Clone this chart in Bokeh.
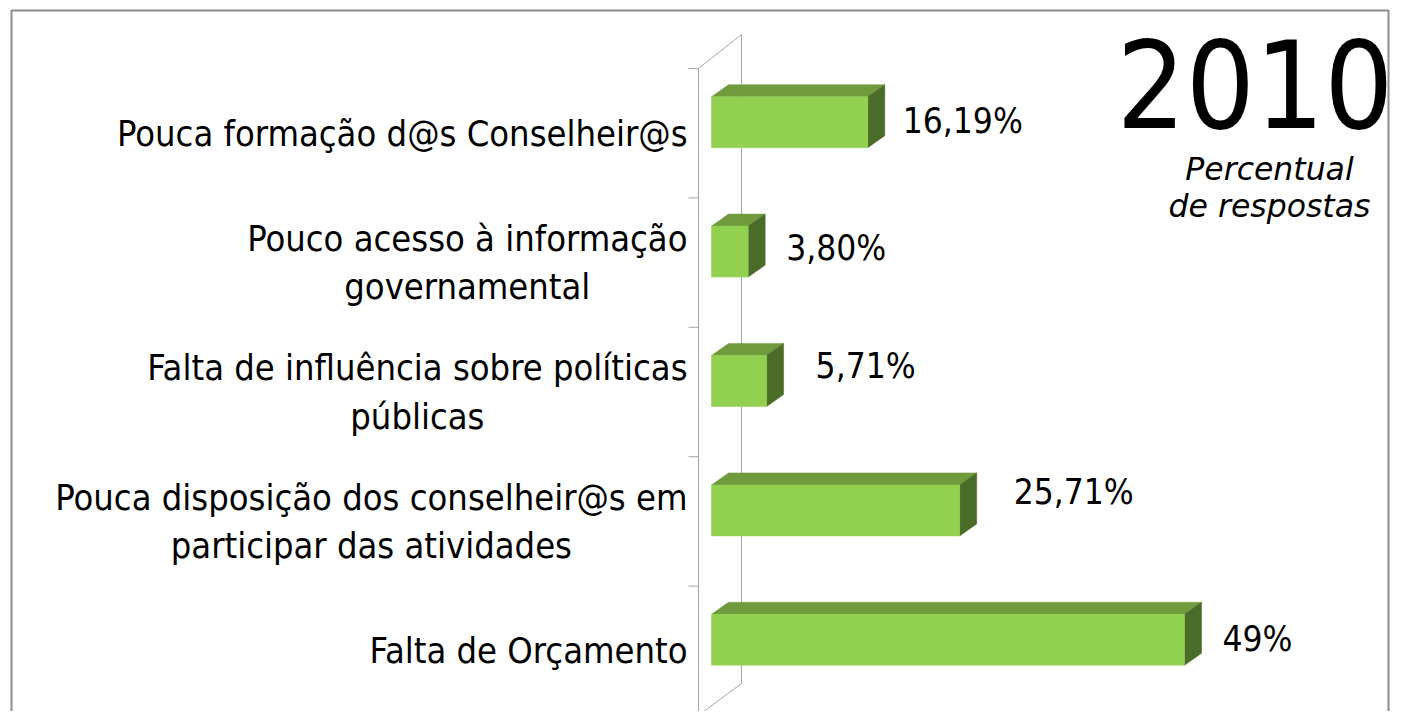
from bokeh.plotting import figure
from bokeh.models import Range1d
from bokeh.core.properties import value
from bokeh.embed import file_html
from bokeh.resources import INLINE

# ---- data ----
categories = [
    "Pouca formação d@s Conselheir@s",
    "Pouco acesso à informação\ngovernamental",
    "Falta de influência sobre políticas\npúblicas",
    "Pouca disposição dos conselheir@s em\nparticipar das atividades",
    "Falta de Orçamento",
]
values = [16.19, 3.80, 5.71, 25.71, 49.0]
value_labels = ["16,19%", "3,80%", "5,71%", "25,71%", "49%"]
title_text = "2010"
subtitle_lines = ["Percentual", "de respostas"]

# ---- layout constants (pixels) ----
W, H = 1392, 711
X0 = 711.0        # canvas x of 0 %
PPX = 9.653       # pixels per percent
YC0 = 132.7       # canvas y of first category band centre
BAND = 129.4      # pixels per category
BAR_H = 51.0
BAR_SHIFT = -11.0
DX, DY = 17.0, 12.0
LABEL_GAP = [18, 21, 32, 37, 21]
LABEL_NUDGE = [-1, -4, -15, -18, -1]

FONT = "DejaVu Sans Condensed, DejaVu Sans"

def fx(px):
    return (px - X0) / PPX

def fy(py):
    return (py - YC0) / BAND

p = figure(width=W, height=H, output_backend="svg", toolbar_location=None,
           x_range=Range1d(fx(0), fx(W)), y_range=Range1d(fy(H), fy(0)),
           min_border=0, background_fill_color="white", border_fill_color="white")
p.axis.visible = False
p.grid.visible = False
p.outline_line_color = None

# ---- outer border ----
p.line([fx(11), fx(11), fx(1388), fx(1388)], [fy(H + 5), fy(10), fy(10), fy(H + 5)],
       line_color="#8c8c8c", line_width=2)

# ---- 3D walls ----
wall = "#a6a6a6"
n = len(categories)
fl, bl = 698, 741
top_f, bot_f = YC0 - BAND / 2, YC0 + BAND * (n - 0.5)
wd = 34
p.line([fx(fl), fx(fl)], [fy(top_f), fy(bot_f)], line_color=wall, line_width=1)
p.line([fx(bl), fx(bl)], [fy(top_f - wd), fy(bot_f - wd + 2)], line_color=wall, line_width=1)
p.line([fx(fl), fx(bl)], [fy(top_f), fy(top_f - wd)], line_color=wall, line_width=1)
p.line([fx(fl), fx(bl)], [fy(bot_f), fy(bot_f - wd + 2)], line_color=wall, line_width=1)
tick_y = [fy(top_f + BAND * k) for k in range(n + 1)]
p.segment(x0=[fx(688)] * (n + 1), x1=[fx(fl)] * (n + 1), y0=tick_y, y1=tick_y,
          line_color=wall, line_width=1)

# ---- bars ----
ddx = DX / PPX
ddy = DY / BAND
fronts = dict(left=[], right=[], top=[], bottom=[])
tops_x, tops_y, side_x, side_y = [], [], [], []
for k, v in enumerate(values):
    c = YC0 + k * BAND + BAR_SHIFT
    t, b = fy(c - BAR_H / 2), fy(c + BAR_H / 2)
    fronts["left"].append(0)
    fronts["right"].append(v)
    fronts["top"].append(t)
    fronts["bottom"].append(b)
    tops_x.append([0, v, v + ddx, ddx])
    tops_y.append([t, t, t - ddy, t - ddy])
    side_x.append([v, v + ddx, v + ddx, v])
    side_y.append([t, t - ddy, b - ddy, b])

p.patches(tops_x, tops_y, fill_color="#6f9b3c", line_color="#6f9b3c", line_width=0.5)
p.patches(side_x, side_y, fill_color="#4b6b28", line_color="#4b6b28", line_width=0.5)
p.quad(left=fronts["left"], right=fronts["right"], top=fronts["top"], bottom=fronts["bottom"],
       fill_color="#92d050", line_color="#92d050", line_width=0.5)

# ---- value labels ----
lx = [v + (DX + g) / PPX for v, g in zip(values, LABEL_GAP)]
ly = [fy(YC0 + k * BAND + BAR_SHIFT + LABEL_NUDGE[k]) for k in range(n)]
p.text(x=lx, y=ly, text=value_labels, text_font=value(FONT), text_font_size="35px",
       text_color="black", text_align="left", text_baseline="middle")

# ---- category labels ----
cx = [fx(687)] * n
cy = [fy(YC0 + k * BAND) for k in range(n)]
p.text(x=cx, y=cy, text=categories, text_font=value(FONT), text_font_size="36px",
       text_color="black", text_align="center", anchor="center_right",
       text_baseline="middle", text_line_height=1.19)

# ---- title ----
p.text(x=[fx(1116)], y=[fy(83)], text=[title_text], text_font=value(FONT),
       text_font_size="121px", text_color="black", text_align="left",
       text_baseline="middle")
p.text(x=[fx(1269)] * 2, y=[fy(168), fy(205)], text=subtitle_lines,
       text_font=value("DejaVu Sans"), text_font_style="italic", text_font_size="31.5px",
       text_color="black", text_align="center", text_baseline="alphabetic")

open("out.html", "w").write(file_html(p, INLINE))
